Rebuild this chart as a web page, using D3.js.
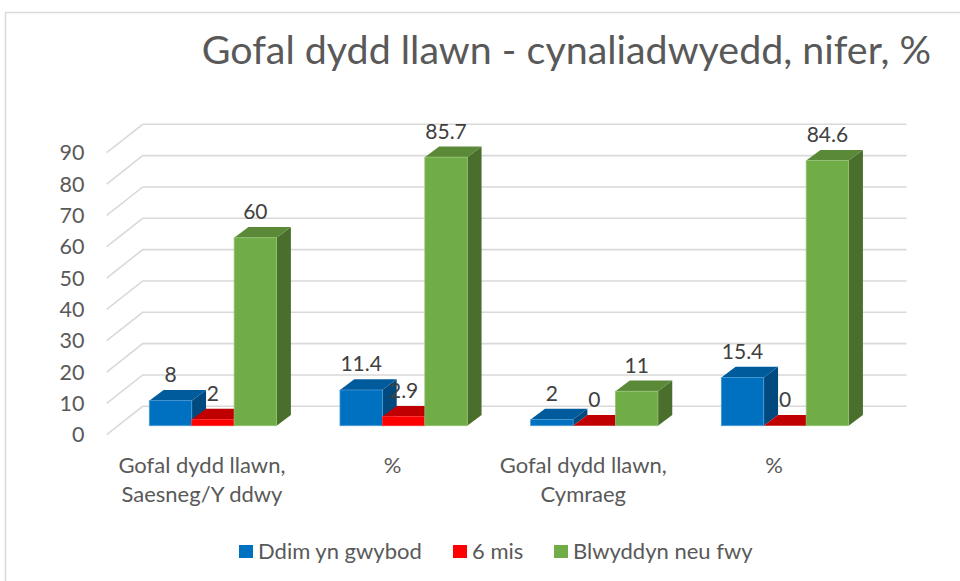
<!DOCTYPE html>
<html><head><meta charset="utf-8">
<script src="https://cdn.jsdelivr.net/npm/d3@7/dist/d3.min.js"></script>
<style>html,body{margin:0;padding:0;background:#fff}svg{display:block}text{font-family:Lato,sans-serif}</style>
</head><body><svg id="c" width="960" height="581"></svg>
<script>
const titleText = "Gofal dydd llawn - cynaliadwyedd, nifer, %";
const categories = [["Gofal dydd llawn,","Saesneg/Y ddwy"],["%"],["Gofal dydd llawn,","Cymraeg"],["%"]];
const seriesNames = ["Ddim yn gwybod","6 mis","Blwyddyn neu fwy"];
const ddimValues = [8,11.4,2,15.4];
const chwechValues = [2,2.9,0,0];
const blwyddynValues = [60,85.7,11,84.6];
const yTicks = [0,10,20,30,40,50,60,70,80,90];
const frontColors = ["#0070c0","#ff0000","#70ad47"];
const edgeColors = ["#4a9bd4","#ff3030","#93c274"];
const topColors = ["#005b9c","#c00000","#5a8a38"];
const sideColors = ["#004a80","#a00000","#4a6e2c"];

const svg = d3.select("#c");
const seriesValues = [ddimValues,chwechValues,blwyddynValues];
const y = d3.scaleLinear().domain([0,90]).range([425.7,143.7]);
const x0 = d3.scaleBand().domain(d3.range(categories.length)).range([117.6,880.3]);
const x1 = d3.scaleBand().domain(d3.range(3)).range([31.7,159]);
const floorDy=28.4;
const barDx=14.3, barDy=-10.7;

// border
svg.append("path").attr("d","M5.5,581V12.5H960").attr("fill","none").attr("stroke","#d9d9d9").attr("stroke-width",1.5);

// gridlines
const gridBack = v => y(v)-19.4;
const grid = svg.append("g").attr("fill","none").attr("stroke","#d9d9d9").attr("stroke-width",1.6);
yTicks.forEach(v=>{
  grid.append("path").attr("d",`M106.7,${gridBack(v)+floorDy}L142.7,${gridBack(v)}H906.5`);
});

// y axis labels
svg.append("g").selectAll("text").data(yTicks).join("text")
  .attr("x",84.5).attr("y",v=>y(v)+16.7).attr("text-anchor","end")
  .attr("font-size",21.5).attr("fill","#595959").text(d=>d);

// bars
categories.forEach((c,i)=>{
  seriesValues.forEach((vals,s)=>{
    const g=svg.append("g");
    const v=vals[i], l=x0(i)+x1(s), w=x1.bandwidth(), t=y(v), b=y(0);
    g.append("path").attr("fill",sideColors[s]).attr("d",`M${l+w},${t}l${barDx},${barDy}V${b+barDy}L${l+w},${b}Z`);
    g.append("path").attr("fill",topColors[s]).attr("d",`M${l},${t}l${barDx},${barDy}h${w}l${-barDx},${-barDy}Z`);
    if(v>0) g.append("rect").attr("x",l).attr("y",t).attr("width",w).attr("height",b-t).attr("fill",frontColors[s])
      .attr("stroke",edgeColors[s]).attr("stroke-width",0.8);
  });
});
// value labels
categories.forEach((c,i)=>{
  seriesValues.forEach((vals,s)=>{
    svg.append("text").attr("x",x0(i)+x1(s)+x1.bandwidth()/2).attr("y",y(vals[i])-18.5)
      .attr("text-anchor","middle").attr("font-size",21).attr("fill","#404040").text(vals[i]);
  });
});
// category labels
categories.forEach((c,i)=>{
  c.forEach((line,k)=>{
    svg.append("text").attr("x",x0(i)+x0.bandwidth()/2-11).attr("y",473+k*28.5)
      .attr("text-anchor","middle").attr("font-size",22).attr("fill","#595959").text(line);
  });
});
// title
svg.append("text").attr("x",931).attr("y",63.5).attr("text-anchor","end").attr("font-size",39.4).attr("fill","#595959").text(titleText);
// legend
const legendX=[239,453,554];
seriesNames.forEach((n,s)=>{
  svg.append("rect").attr("x",legendX[s]).attr("y",545).attr("width",14).attr("height",13).attr("fill",frontColors[s]);
  svg.append("text").attr("x",legendX[s]+19).attr("y",559.3).attr("font-size",22).attr("fill","#595959").text(n);
});
</script></body></html>
